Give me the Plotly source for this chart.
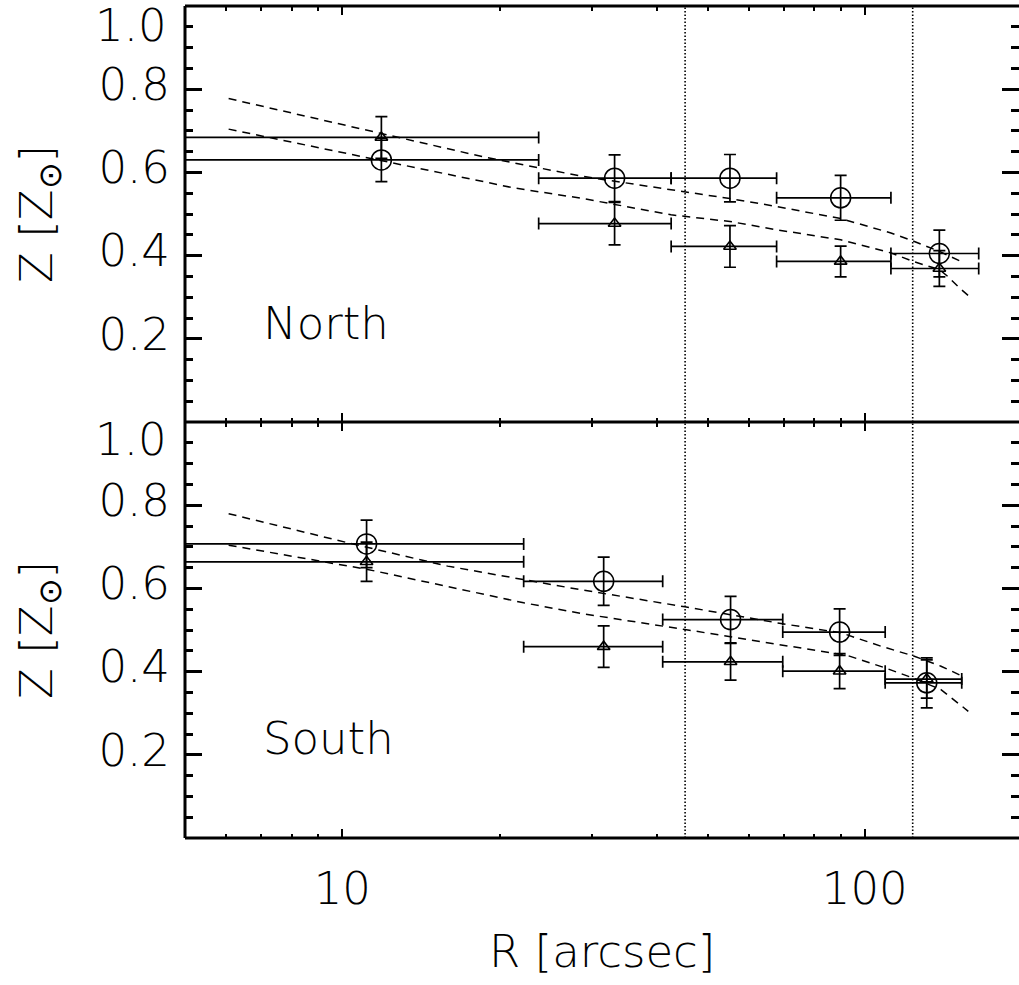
import math
import plotly.graph_objects as go

FONT = "DejaVu Sans"
FW = 200
FS = 45

# ---------------- data ----------------
# North panel: bin centres and edges (arcsec)
n_r = [11.88, 33.2, 55.2, 89.9, 138.9]
n_rlo = [0.0, 23.76, 42.6, 67.8, 112.2]
n_rhi = [23.76, 42.6, 67.8, 112.2, 165.2]
n_circ = [0.630, 0.586, 0.586, 0.539, 0.405]
n_circ_err = [0.052, 0.056, 0.057, 0.054, 0.056]
n_tri = [0.684, 0.477, 0.422, 0.386, 0.369]
n_tri_err = [0.050, 0.051, 0.050, 0.037, 0.043]

# South panel
s_r = [11.13, 31.64, 55.35, 89.5, 131.4]
s_rlo = [0.0, 22.24, 41.04, 69.66, 109.4]
s_rhi = [22.24, 41.04, 69.66, 109.4, 153.3]
s_circ = [0.707, 0.617, 0.525, 0.495, 0.373]
s_circ_err = [0.057, 0.058, 0.056, 0.056, 0.060]
s_tri = [0.664, 0.460, 0.4235, 0.401, 0.382]
s_tri_err = [0.047, 0.050, 0.044, 0.042, 0.046]

# dashed model curves
n_fit1_r = [6.06, 12.12, 18.84, 28.63, 45.28, 55.21, 67.84, 89.93, 112.2, 124.4, 138.9, 154.0]
n_fit1_z = [0.7775, 0.690, 0.636, 0.591, 0.553, 0.537, 0.518, 0.489, 0.4545, 0.434, 0.410, 0.384]
n_fit2_r = [6.06, 11.18, 21.34, 28.63, 42.57, 55.21, 67.84, 89.93, 112.2, 124.4, 138.9, 144.1, 151.7, 157.8]
n_fit2_z = [0.704, 0.6345, 0.5625, 0.538, 0.498, 0.482, 0.462, 0.438, 0.4065, 0.385, 0.3665, 0.350, 0.3225, 0.304]
s_fit1_r = [6.06, 10.24, 15.91, 22.24, 28.63, 45.28, 57.95, 69.13, 90.05, 107.4, 124.4, 139.9, 152.8]
s_fit1_z = [0.7796, 0.7098, 0.6535, 0.6215, 0.5967, 0.5558, 0.5318, 0.5156, 0.4933, 0.461, 0.437, 0.4129, 0.3905]
s_fit2_r = [6.06, 11.18, 22.24, 28.63, 45.28, 69.13, 92.75, 109.4, 124.4, 139.9, 150.6, 157.8]
s_fit2_z = [0.704, 0.6456, 0.5654, 0.5397, 0.5012, 0.4651, 0.4386, 0.409, 0.3833, 0.3568, 0.3248, 0.3046]

# vertical dotted markers (arcsec)
v_lines = [45.3, 123.5]

# axes / ticks
x_min, x_max = 5.0, 197.3
x_major = [10, 100]
x_major_text = ["10", "100"]
x_minor = [6, 7, 8, 9, 20, 30, 40, 50, 60, 70, 80, 90, 200]
y_major = [0.2, 0.4, 0.6, 0.8]
y_major_text = ["0.2", "0.4", "0.6", "0.8"]
y_minor = [0.05, 0.10, 0.15, 0.25, 0.30, 0.35, 0.45, 0.50, 0.55,
           0.65, 0.70, 0.75, 0.85, 0.90, 0.95]
panel_names = ["North", "South"]

# ---------------- figure ----------------
fig = go.Figure()
BLACK = "black"


def add_panel(xa, ya, r, rlo, rhi, circ, cerr, tri, terr, f1r, f1z, f2r, f2z):
    for vx in v_lines:
        fig.add_trace(go.Scatter(x=[vx, vx], y=[0, 1], mode="lines",
                                 line=dict(color=BLACK, width=1.6, dash="1.5px,2px"),
                                 xaxis=xa, yaxis=ya, showlegend=False, hoverinfo="skip"))
    for fr, fz in ((f1r, f1z), (f2r, f2z)):
        fig.add_trace(go.Scatter(x=fr, y=fz, mode="lines",
                                 line=dict(color=BLACK, width=1.5, dash="8px,6px"),
                                 xaxis=xa, yaxis=ya, showlegend=False, hoverinfo="skip"))
    ex_plus = [h - c for h, c in zip(rhi, r)]
    ex_minus = [c - max(l, 1.0) for l, c in zip(rlo, r)]
    fig.add_trace(go.Scatter(
        x=r, y=circ, mode="markers",
        marker=dict(symbol="circle-open", size=20, color=BLACK, line=dict(width=1.5, color=BLACK)),
        error_y=dict(type="data", array=cerr, thickness=1.7, width=6, color=BLACK),
        error_x=dict(type="data", array=ex_plus, arrayminus=ex_minus, thickness=1.7, width=6, color=BLACK),
        xaxis=xa, yaxis=ya, showlegend=False))
    fig.add_trace(go.Scatter(
        x=r, y=tri, mode="markers",
        marker=dict(symbol="triangle-up-open", size=11, color=BLACK, line=dict(width=1.6, color=BLACK)),
        error_y=dict(type="data", array=terr, thickness=1.7, width=6, color=BLACK),
        error_x=dict(type="data", array=ex_plus, arrayminus=ex_minus, thickness=1.7, width=6, color=BLACK),
        xaxis=xa, yaxis=ya, showlegend=False))


add_panel("x2", "y2", n_r, n_rlo, n_rhi, n_circ, n_circ_err, n_tri, n_tri_err,
          n_fit1_r, n_fit1_z, n_fit2_r, n_fit2_z)
add_panel("x", "y", s_r, s_rlo, s_rhi, s_circ, s_circ_err, s_tri, s_tri_err,
          s_fit1_r, s_fit1_z, s_fit2_r, s_fit2_z)

font = dict(family=FONT, size=FS, color=BLACK, weight=FW)

xcommon = dict(type="log", range=[math.log10(x_min), math.log10(x_max)],
               showline=False, mirror="ticks", ticks="inside", ticklen=9, tickwidth=2,
               tickcolor=BLACK, tickmode="array", tickvals=x_major, ticktext=x_major_text,
               minor=dict(tickmode="array", tickvals=x_minor, ticks="inside", ticklen=4.5,
                          tickwidth=2, tickcolor=BLACK, showgrid=False),
               showgrid=False, zeroline=False, tickfont=font)
ycommon = dict(range=[0, 1], showline=False, mirror="ticks", ticks="inside", ticklen=17,
               tickwidth=2.5, tickcolor=BLACK, tickmode="array", tickvals=y_major,
               ticktext=y_major_text,
               minor=dict(tickmode="array", tickvals=y_minor, ticks="inside", ticklen=8,
                          tickwidth=2.5, tickcolor=BLACK, showgrid=False),
               showgrid=False, zeroline=False, ticklabelshift=-5, ticklabelstandoff=14,
               tickfont=font)

fig.update_layout(
    width=1019, height=985,
    margin=dict(l=185, r=0, t=6, b=147),
    paper_bgcolor="white", plot_bgcolor="white",
    xaxis=dict(anchor="y", domain=[0, 1], ticklabelstandoff=20, **xcommon),
    xaxis2=dict(anchor="y2", domain=[0, 1], matches="x", showticklabels=False, **xcommon),
    yaxis=dict(anchor="x", domain=[0, 0.5], **ycommon),
    yaxis2=dict(anchor="x2", domain=[0.5, 1], **ycommon),
    showlegend=False,
)

# frame lines (left, top, middle, bottom)
for (x0, y0, x1, y1) in [(0, 0, 0, 1), (0, 1, 1, 1), (0, 0.5, 1, 0.5), (0, 0, 1, 0)]:
    fig.add_shape(type="line", xref="paper", yref="paper", x0=x0, y0=y0, x1=x1, y1=y1,
                  line=dict(color=BLACK, width=3))

# "1.0" labels (shifted below the frame edge as in the original)
for ya, shift in (("y2", -19), ("y", -17)):
    fig.add_annotation(text="1.0", xref="paper", x=0, xanchor="right", xshift=-17,
                       yref=ya, y=1.0, yanchor="middle", yshift=shift, showarrow=False,
                       font=font, borderpad=0)
# y titles
for yc in (0.75, 0.25):
    fig.add_annotation(text="Z [Z<sub>⊙</sub>]", xref="paper", x=0, xanchor="center", xshift=-146,
                       yref="paper", y=yc, yanchor="middle", textangle=-90,
                       showarrow=False, font=font)
# x title
fig.add_annotation(text="R [arcsec]", xref="paper", x=0.5, xanchor="center",
                   yref="paper", y=0, yanchor="middle", yshift=-113, showarrow=False, font=font)
# panel names
fig.add_annotation(text=panel_names[0], xref="x2", x=math.log10(7.0), xanchor="left",
                   yref="y2", y=0.237, yanchor="middle", showarrow=False, font=font)
fig.add_annotation(text=panel_names[1], xref="x", x=math.log10(7.0), xanchor="left",
                   yref="y", y=0.239, yanchor="middle", showarrow=False, font=font)

fig.write_html("out.html")
